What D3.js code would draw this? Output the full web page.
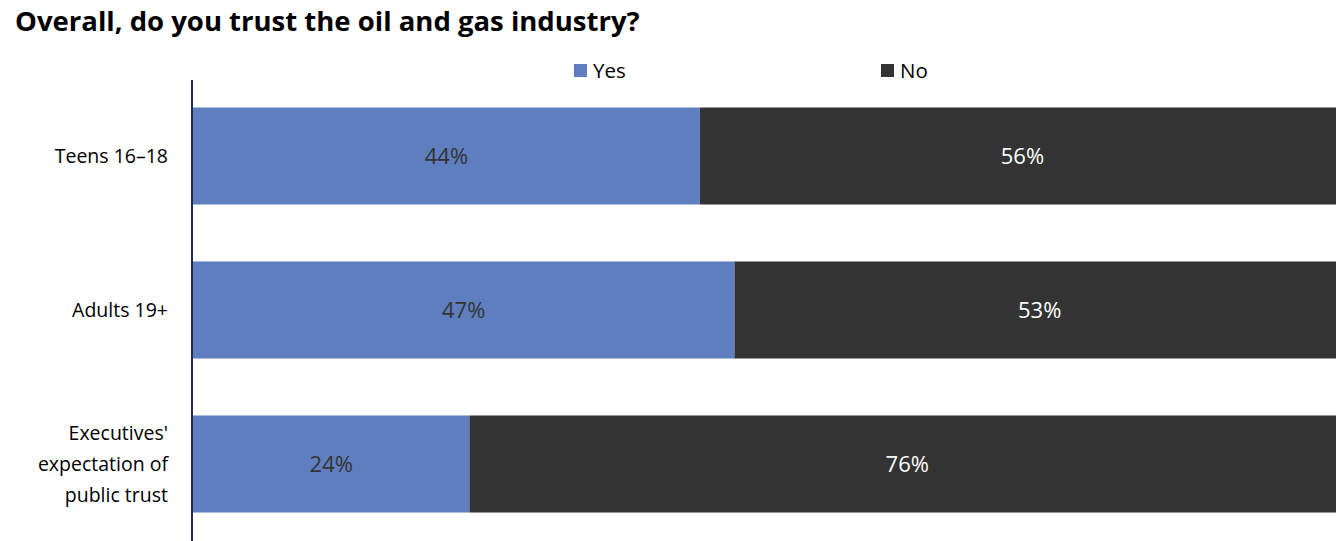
<!DOCTYPE html>
<html><head><meta charset="utf-8">
<script src="https://cdn.jsdelivr.net/npm/d3@7"></script>
<style>body{margin:0;background:#fff}svg{display:block}</style>
</head><body>
<svg id="c" width="1336" height="541"></svg>
<script>
const categories = [["Teens 16–18"], ["Adults 19+"], ["Executives'", "expectation of", "public trust"]];
const categoryKeys = ["Teens 16–18", "Adults 19+", "Executives' expectation of public trust"];
const yesValues = [44, 47, 24];
const noValues = [56, 53, 76];
const seriesNames = ["Yes", "No"];
const seriesColors = ["#5e7ebf", "#333333"];
const labelColors = ["#333333", "#ffffff"];

const svg = d3.select("#c");
const font = "'Open Sans', sans-serif";

svg.append("text").attr("x", 15).attr("y", 31).attr("font-family", font)
  .attr("font-weight", 700).attr("font-size", 27.5).attr("fill", "#000")
  .text("Overall, do you trust the oil and gas industry?");

const x = d3.scaleLinear().domain([0, 100]).range([193, 1345]);
const y = d3.scaleBand().domain(categoryKeys).range([79, 541]).paddingInner(0.37).paddingOuter(0.185);

const data = categoryKeys.map((k, i) => ({key: k, Yes: yesValues[i], No: noValues[i]}));
const stack = d3.stack().keys(seriesNames)(data);

const g = svg.append("g");
stack.forEach((s, si) => {
  g.selectAll(null).data(s).enter().append("rect")
    .attr("x", d => x(d[0])).attr("width", d => x(d[1]) - x(d[0]))
    .attr("y", d => y(d.data.key)).attr("height", y.bandwidth())
    .attr("fill", seriesColors[si]);
  g.selectAll(null).data(s).enter().append("text")
    .attr("x", d => (x(d[0]) + x(d[1])) / 2)
    .attr("y", d => y(d.data.key) + y.bandwidth() / 2)
    .attr("dy", "0.36em").attr("text-anchor", "middle")
    .attr("font-family", font).attr("font-size", 22).attr("fill", labelColors[si])
    .text(d => (d[1] - d[0]) + "%");
});

// axis line
svg.append("line").attr("x1", 192).attr("x2", 192).attr("y1", 80).attr("y2", 541)
  .attr("stroke", "#1f2a4d").attr("stroke-width", 2);

// category labels
categoryKeys.forEach((k, i) => {
  const lines = categories[i];
  const cy = y(k) + y.bandwidth() / 2;
  const lh = 31;
  const t = svg.append("text").attr("text-anchor", "end").attr("font-family", font)
    .attr("font-size", 19.5).attr("fill", "#000");
  lines.forEach((ln, j) => {
    t.append("tspan").attr("x", 168).attr("y", cy + (j - (lines.length - 1) / 2) * lh)
      .attr("dy", "0.36em").text(ln);
  });
});

// legend
const legendX = [574, 881];
seriesNames.forEach((n, i) => {
  svg.append("rect").attr("x", legendX[i]).attr("y", 64).attr("width", 13).attr("height", 13).attr("fill", seriesColors[i]);
  svg.append("text").attr("x", legendX[i] + 19).attr("y", 70.5).attr("dy", "0.36em")
    .attr("font-family", font).attr("font-size", 20.5).attr("fill", "#000").text(n);
});
</script>
</body></html>
